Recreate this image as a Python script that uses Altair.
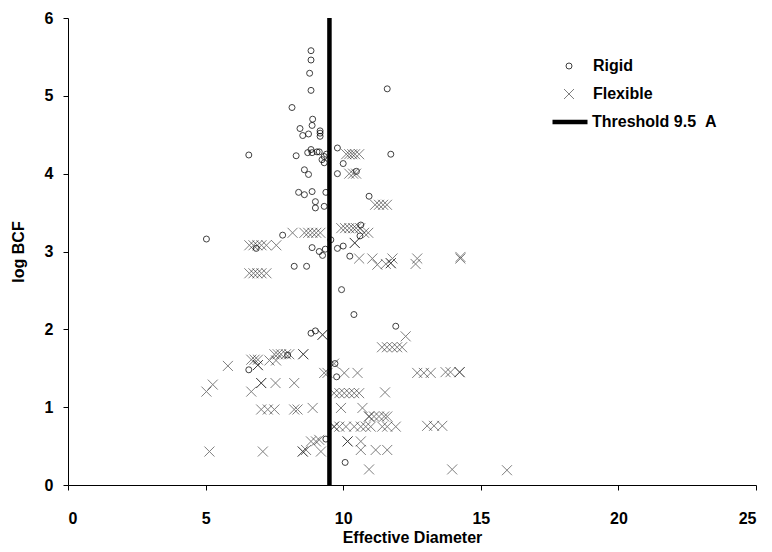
import altair as alt
import pandas as pd

# Rigid molecules: effective diameter, log BCF
rigid_d = [8.83, 8.83, 8.78, 8.83, 8.14, 8.89, 8.87, 8.43, 8.74, 8.53, 9.16, 9.16, 9.16,
           6.57, 8.29, 8.71, 8.83, 8.87, 9.05, 9.13, 9.23, 9.31, 9.31, 9.39, 9.79, 10.0,
           11.73, 11.6, 9.79, 10.48, 8.59, 8.74, 8.38, 8.59, 8.87, 9.37, 10.94, 8.99, 8.99,
           9.31, 5.03, 7.80, 6.84, 8.87, 9.13, 9.25, 9.35, 9.55, 9.79, 10.0, 10.24, 10.64,
           10.61, 8.22, 8.67, 9.94, 10.39, 11.91, 8.83, 8.99, 6.57, 7.98, 9.70, 9.76, 9.37,
           10.07]
rigid_b = [5.58, 5.46, 5.29, 5.07, 4.85, 4.70, 4.62, 4.58, 4.51, 4.49, 4.55, 4.52, 4.48,
           4.24, 4.23, 4.27, 4.31, 4.27, 4.28, 4.28, 4.18, 4.22, 4.14, 4.25, 4.33, 4.13,
           4.25, 5.09, 4.00, 4.03, 4.05, 3.99, 3.76, 3.73, 3.77, 3.76, 3.71, 3.64, 3.56,
           3.58, 3.16, 3.21, 3.04, 3.05, 3.00, 2.95, 3.03, 3.15, 3.04, 3.07, 2.94, 3.34,
           3.20, 2.81, 2.81, 2.51, 2.19, 2.04, 1.95, 1.98, 1.48, 1.67, 1.56, 1.39, 0.59,
           0.29]

# Flexible molecules: effective diameter, log BCF
flex_d = [10.11, 10.22, 10.33, 10.43, 10.58,
          10.22, 10.36, 10.47,
          11.16, 11.30, 11.45, 11.59,
          9.93, 10.07, 10.22, 10.36, 10.47, 10.62, 10.76, 10.91,
          10.42, 10.42,
          8.16, 8.59, 8.73, 8.88, 9.02, 9.17,
          6.59, 6.74, 6.88, 7.03, 7.21, 7.57,
          6.59, 6.74, 6.88, 7.03, 7.21,
          10.58, 11.06, 11.24, 11.55, 11.73, 11.73, 11.79, 12.63, 12.69, 14.26, 14.26,
          9.25, 9.25, 12.27,
          11.41, 11.59, 11.78, 11.96, 12.14,
          5.81, 5.03, 5.26, 6.66, 6.66, 6.78, 6.90, 6.90, 6.90, 7.32,
          7.50, 7.62, 7.74, 7.92, 8.04, 7.56, 8.55, 8.55,
          7.02, 7.02, 7.54, 8.22,
          7.02, 7.26, 7.50, 8.22, 8.34, 8.89,
          5.14, 7.08, 8.53, 8.53, 8.65, 8.83, 9.01, 9.13, 9.19,
          9.43, 9.31, 9.67, 10.04, 10.52,
          9.67, 9.86, 10.04, 10.22, 10.40, 10.58, 11.52,
          9.92, 10.70,
          10.94, 10.94, 11.12, 11.30, 11.49, 11.60,
          9.67, 9.67, 9.86, 10.10, 10.40, 10.64, 10.82, 11.00, 11.42, 11.60, 11.91,
          13.05, 13.30, 13.60,
          10.16, 10.16, 10.64, 10.64, 11.18, 11.60,
          10.94, 13.96, 15.95,
          12.69, 12.93, 13.18, 13.72, 13.90, 14.23, 14.23]
flex_b = [4.25, 4.25, 4.25, 4.25, 4.25,
          4.00, 4.00, 4.00,
          3.60, 3.60, 3.60, 3.60,
          3.30, 3.30, 3.30, 3.30, 3.30, 3.30, 3.24, 3.24,
          3.11, 3.11,
          3.24, 3.24, 3.24, 3.24, 3.24, 3.24,
          3.08, 3.08, 3.08, 3.08, 3.08, 3.08,
          2.72, 2.72, 2.72, 2.72, 2.72,
          2.91, 2.91, 2.83, 2.84, 2.85, 2.85, 2.91, 2.84, 2.91, 2.91, 2.93,
          1.93, 1.93, 1.91,
          1.77, 1.77, 1.77, 1.77, 1.77,
          1.53, 1.20, 1.29, 1.20, 1.61, 1.61, 1.61, 1.54, 1.54, 1.60,
          1.68, 1.68, 1.68, 1.68, 1.68, 1.60, 1.68, 1.68,
          1.31, 1.31, 1.31, 1.31,
          0.97, 0.97, 0.97, 0.97, 0.97, 0.99,
          0.43, 0.43, 0.43, 0.43, 0.45, 0.56, 0.56, 0.58, 0.43,
          1.44, 1.44, 1.56, 1.44, 1.44,
          1.18, 1.18, 1.18, 1.18, 1.18, 1.18, 1.19,
          0.99, 0.99,
          0.88, 0.88, 0.88, 0.88, 0.88, 0.88,
          0.75, 0.75, 0.75, 0.75, 0.75, 0.75, 0.75, 0.75, 0.75, 0.75, 0.75,
          0.76, 0.76, 0.76,
          0.56, 0.56, 0.56, 0.45, 0.45, 0.45,
          0.20, 0.20, 0.19,
          1.44, 1.44, 1.44, 1.45, 1.45, 1.45, 1.45]

threshold = [9.5]
series_names = ["Rigid", "Flexible"]
threshold_name = ["Threshold 9.5\u00a0\u00a0A"]
x_ticks = [0, 5, 10, 15, 20, 25]
y_ticks = [0, 1, 2, 3, 4, 5, 6]

pts = pd.concat([
    pd.DataFrame({"d": rigid_d, "b": rigid_b, "series": series_names[0]}),
    pd.DataFrame({"d": flex_d, "b": flex_b, "series": series_names[1]}),
], ignore_index=True)
thr = pd.DataFrame({"d": threshold, "line": threshold_name})

CROSS = "M-1,-1L1,1M-1,1L1,-1"
FONT = "Liberation Sans"

xenc = alt.X("d:Q", scale=alt.Scale(domain=[0, 25], nice=False, zero=False),
             axis=alt.Axis(values=x_ticks, title="Effective Diameter", format="d",
                           labelPadding=20, titlePadding=3))
yenc = alt.Y("b:Q", scale=alt.Scale(domain=[0, 6], nice=False),
             axis=alt.Axis(values=y_ticks, title="log BCF", format="d",
                           labelPadding=10, titlePadding=18))

leg_common = dict(title=None, labelFont=FONT, labelFontSize=16, labelFontWeight="bold",
                  labelColor="black", padding=0, symbolFillColor="transparent")

legend_pts = alt.Legend(orient="none", legendX=493, legendY=40, labelOffset=16,
                        rowPadding=12, symbolStrokeWidth=1, **leg_common)

points = alt.Chart(pts).mark_point(filled=False, strokeWidth=1).encode(
    x=xenc,
    y=yenc,
    shape=alt.Shape("series:N", scale=alt.Scale(domain=series_names, range=["circle", CROSS]),
                    legend=legend_pts),
    color=alt.Color("series:N", scale=alt.Scale(domain=series_names, range=["#000000", "#000000"]),
                    legend=legend_pts),
    opacity=alt.Opacity("series:N", scale=alt.Scale(type="ordinal", domain=series_names,
                                                    range=[0.75, 0.5]),
                        legend=legend_pts),
    size=alt.Size("series:N", scale=alt.Scale(type="ordinal", domain=series_names,
                                              range=[36, 100]),
                  legend=legend_pts),
)

rule = alt.Chart(thr).mark_rule(color="black", strokeWidth=4.5).encode(
    x=alt.X("d:Q"),
    strokeDash=alt.StrokeDash("line:N", scale=alt.Scale(domain=threshold_name, range=[[1, 0]]),
                              legend=alt.Legend(orient="none", legendX=482, legendY=84,
                                                labelOffset=2, symbolType="stroke",
                                                symbolSize=1225, symbolStrokeWidth=4.5,
                                                symbolStrokeColor="black", **leg_common)),
)

chart = alt.layer(rule, points).properties(
    width=688, height=467,
    autosize=alt.AutoSizeParams(type="none"),
    padding={"left": 60, "top": 10, "right": 8, "bottom": 59},
).configure_view(stroke=None).configure_axis(
    grid=False, domainColor="black", tickColor="black", tickSize=5,
    labelFont=FONT, labelFontSize=16, labelFontWeight="bold", labelColor="black",
    titleFont=FONT, titleFontSize=16, titleFontWeight="bold", titleColor="black",
)

chart.save("out.html", embed_options={"renderer": "svg", "actions": False})
